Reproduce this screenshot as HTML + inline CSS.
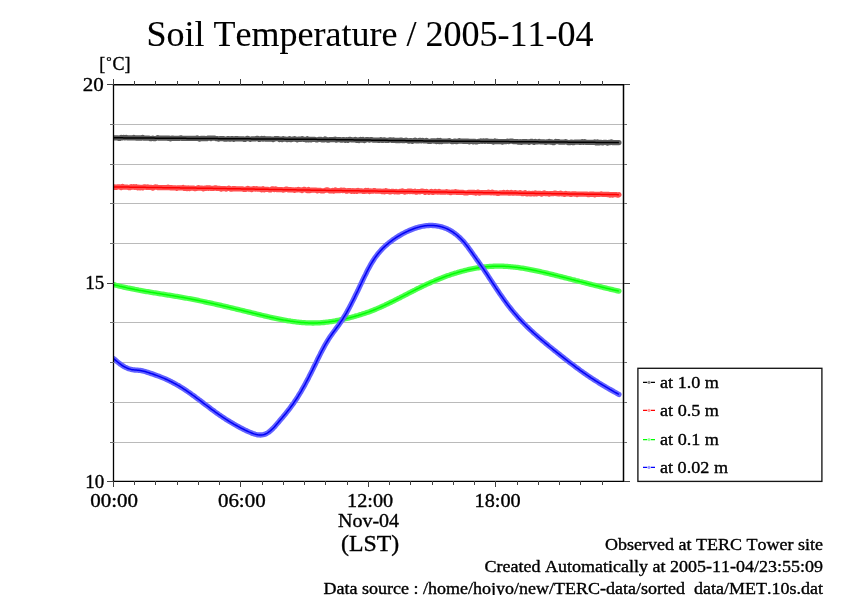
<!DOCTYPE html>
<html lang="en"><head><meta charset="utf-8"><title>Soil Temperature / 2005-11-04</title>
<style>html,body{margin:0;padding:0;background:#fff;overflow:hidden}svg{display:block}text{font-family:"Liberation Serif","Times New Roman",Times,serif;fill:#000;stroke:#000;stroke-width:0.36px;stroke-linejoin:round;font-kerning:none;font-variant-ligatures:none}</style></head><body>
<svg width="842" height="595" viewBox="0 0 842 595">
<rect width="842" height="595" fill="#fff"/>
<g fill="#bababa" shape-rendering="crispEdges">
<rect x="114" y="124" width="509" height="1"/>
<rect x="114" y="164" width="509" height="1"/>
<rect x="114" y="203" width="509" height="1"/>
<rect x="114" y="243" width="509" height="1"/>
<rect x="114" y="283" width="509" height="1"/>
<rect x="114" y="322" width="509" height="1"/>
<rect x="114" y="362" width="509" height="1"/>
<rect x="114" y="402" width="509" height="1"/>
<rect x="114" y="442" width="509" height="1"/>
</g>
<clipPath id="pc"><rect x="113.5" y="84.6" width="510.0" height="396.79999999999995"/></clipPath>
<g clip-path="url(#pc)" fill="none" stroke-linejoin="round">
<path d="M113.5,137.80 L114.8,137.81 L116.0,137.82 L117.3,137.83 L118.6,138.34 L119.8,138.35 L121.1,137.36 L122.4,137.87 L123.6,137.38 L124.9,137.89 L126.2,137.40 L127.4,137.91 L128.7,137.92 L130.0,137.93 L131.2,137.94 L132.5,137.95 L133.8,137.46 L135.0,137.97 L136.3,137.98 L137.6,137.99 L138.8,138.00 L140.1,138.01 L141.4,138.02 L142.6,137.53 L143.9,138.04 L145.2,138.05 L146.4,138.06 L147.7,138.07 L149.0,138.08 L150.2,138.59 L151.5,138.60 L152.8,138.11 L154.0,138.62 L155.3,138.63 L156.6,138.14 L157.8,137.65 L159.1,138.16 L160.4,138.17 L161.6,138.18 L162.9,138.19 L164.2,138.20 L165.4,138.21 L166.7,138.22 L168.0,138.23 L169.2,138.24 L170.5,138.75 L171.8,138.26 L173.0,138.27 L174.3,138.28 L175.6,138.29 L176.8,138.30 L178.1,138.31 L179.4,138.32 L180.6,137.83 L181.9,138.34 L183.2,138.35 L184.4,138.36 L185.7,138.37 L187.0,138.38 L188.2,138.39 L189.5,138.40 L190.8,138.41 L192.0,138.42 L193.3,138.43 L194.6,138.44 L195.8,138.45 L197.1,137.96 L198.4,138.47 L199.6,138.98 L200.9,138.49 L202.2,138.50 L203.4,138.51 L204.7,138.52 L206.0,138.53 L207.2,138.54 L208.5,138.05 L209.8,138.06 L211.0,138.57 L212.3,138.08 L213.6,138.09 L214.8,138.10 L216.1,138.61 L217.4,138.62 L218.6,139.13 L219.9,138.64 L221.2,138.65 L222.4,138.66 L223.7,138.67 L225.0,139.18 L226.2,139.19 L227.5,138.70 L228.8,138.70 L230.0,139.21 L231.3,138.72 L232.6,138.73 L233.8,139.24 L235.1,138.75 L236.4,138.76 L237.6,138.77 L238.9,138.78 L240.2,138.79 L241.4,138.80 L242.7,138.81 L244.0,139.32 L245.2,139.33 L246.5,138.84 L247.8,138.35 L249.0,138.86 L250.3,139.37 L251.6,138.88 L252.8,138.89 L254.1,138.90 L255.4,138.91 L256.6,138.42 L257.9,138.43 L259.2,139.44 L260.4,138.95 L261.7,138.46 L263.0,138.97 L264.2,138.48 L265.5,138.98 L266.8,138.99 L268.0,139.00 L269.3,139.01 L270.6,139.02 L271.8,139.03 L273.1,139.54 L274.4,139.05 L275.6,138.56 L276.9,138.57 L278.2,138.58 L279.4,139.59 L280.7,139.10 L282.0,139.61 L283.2,138.62 L284.5,139.13 L285.8,139.14 L287.0,139.65 L288.3,139.16 L289.6,138.67 L290.8,139.68 L292.1,139.19 L293.4,139.20 L294.6,138.71 L295.9,139.22 L297.2,139.73 L298.4,139.24 L299.7,139.25 L301.0,139.25 L302.2,138.76 L303.5,139.27 L304.8,139.28 L306.0,139.79 L307.3,138.80 L308.6,139.81 L309.8,139.32 L311.1,139.83 L312.4,139.34 L313.6,139.35 L314.9,139.36 L316.2,139.87 L317.4,139.88 L318.7,139.39 L320.0,139.40 L321.2,139.42 L322.5,139.94 L323.8,139.95 L325.0,138.97 L326.3,139.49 L327.6,140.01 L328.8,140.03 L330.1,139.54 L331.4,139.56 L332.6,139.58 L333.9,139.60 L335.2,139.12 L336.4,140.13 L337.7,139.65 L339.0,139.67 L340.2,139.69 L341.5,140.21 L342.8,139.73 L344.0,139.74 L345.3,140.26 L346.6,139.78 L347.8,140.30 L349.1,139.32 L350.4,139.33 L351.6,139.85 L352.9,139.87 L354.2,139.89 L355.4,139.41 L356.7,140.42 L358.0,139.94 L359.2,140.46 L360.5,139.48 L361.8,140.00 L363.0,139.51 L364.3,140.53 L365.6,140.05 L366.8,139.57 L368.1,139.59 L369.4,140.11 L370.6,139.62 L371.9,139.64 L373.2,140.16 L374.4,140.18 L375.7,140.20 L377.0,140.21 L378.2,140.23 L379.5,140.25 L380.8,139.77 L382.0,140.29 L383.3,140.30 L384.6,139.82 L385.8,140.34 L387.1,140.36 L388.4,140.38 L389.6,139.89 L390.9,139.91 L392.2,140.43 L393.4,139.95 L394.7,140.47 L396.0,140.49 L397.2,140.50 L398.5,140.52 L399.8,140.54 L401.0,140.06 L402.3,140.58 L403.6,140.59 L404.8,140.61 L406.1,140.13 L407.4,140.65 L408.6,141.17 L409.9,140.68 L411.2,140.70 L412.4,141.22 L413.7,140.74 L415.0,140.26 L416.2,140.77 L417.5,140.79 L418.8,140.81 L420.0,140.33 L421.3,140.85 L422.6,140.37 L423.8,140.88 L425.1,140.90 L426.4,140.41 L427.6,140.92 L428.9,141.43 L430.2,141.44 L431.4,140.96 L432.7,140.97 L434.0,140.98 L435.2,140.99 L436.5,141.50 L437.8,140.51 L439.0,141.52 L440.3,140.53 L441.6,141.54 L442.8,141.05 L444.1,141.06 L445.4,141.07 L446.6,141.09 L447.9,141.10 L449.2,140.61 L450.4,141.12 L451.7,141.63 L453.0,141.64 L454.2,141.15 L455.5,141.16 L456.8,141.67 L458.0,141.18 L459.3,140.69 L460.6,141.20 L461.8,141.22 L463.1,141.23 L464.4,141.24 L465.6,141.25 L466.9,141.26 L468.2,141.27 L469.4,141.78 L470.7,141.29 L472.0,141.30 L473.2,141.81 L474.5,141.32 L475.8,141.84 L477.0,141.85 L478.3,141.36 L479.6,141.37 L480.8,140.88 L482.1,141.39 L483.4,140.90 L484.6,141.41 L485.9,140.92 L487.2,140.93 L488.4,141.44 L489.7,141.45 L491.0,141.47 L492.2,141.48 L493.5,141.99 L494.8,141.00 L496.0,141.51 L497.3,141.52 L498.6,141.53 L499.8,141.54 L501.1,141.55 L502.4,142.06 L503.6,141.57 L504.9,141.58 L506.2,141.60 L507.4,141.11 L508.7,141.62 L510.0,141.13 L511.2,141.14 L512.5,141.15 L513.8,141.66 L515.0,141.67 L516.3,141.68 L517.6,141.69 L518.8,142.20 L520.1,141.72 L521.4,142.23 L522.6,141.74 L523.9,141.75 L525.2,141.76 L526.4,141.77 L527.7,141.78 L529.0,142.29 L530.2,141.80 L531.5,141.31 L532.8,141.82 L534.0,142.34 L535.3,141.35 L536.6,141.86 L537.8,141.87 L539.1,141.38 L540.4,141.89 L541.6,141.90 L542.9,141.91 L544.2,141.92 L545.4,142.43 L546.7,141.95 L548.0,141.96 L549.2,141.47 L550.5,141.98 L551.8,141.99 L553.0,142.50 L554.3,142.51 L555.6,141.52 L556.8,141.53 L558.1,141.55 L559.4,142.06 L560.6,142.07 L561.9,142.08 L563.2,142.09 L564.4,142.10 L565.7,141.61 L567.0,142.12 L568.2,142.63 L569.5,142.65 L570.8,142.16 L572.0,142.17 L573.3,142.68 L574.6,142.19 L575.8,142.20 L577.1,142.21 L578.4,142.22 L579.6,142.23 L580.9,142.25 L582.2,141.76 L583.4,142.27 L584.7,141.78 L586.0,142.29 L587.2,142.30 L588.5,142.31 L589.8,142.32 L591.0,142.33 L592.3,142.34 L593.6,142.36 L594.8,141.87 L596.1,142.88 L597.4,141.89 L598.6,142.90 L599.9,142.41 L601.2,142.42 L602.4,142.93 L603.7,142.44 L605.0,142.46 L606.2,142.47 L607.5,142.98 L608.8,142.49 L610.0,142.50 L611.3,142.01 L612.6,142.52 L613.8,142.53 L615.1,142.54 L616.4,142.56 L617.6,142.57 L618.9,142.58" stroke="#5c5c5c" stroke-width="5.3" stroke-linecap="round"/>
<path d="M113.5,137.80 L114.8,137.81 L116.0,137.82 L117.3,137.83 L118.6,137.84 L119.8,137.85 L121.1,137.86 L122.4,137.87 L123.6,137.88 L124.9,137.89 L126.2,137.90 L127.4,137.91 L128.7,137.92 L130.0,137.93 L131.2,137.94 L132.5,137.95 L133.8,137.96 L135.0,137.97 L136.3,137.98 L137.6,137.99 L138.8,138.00 L140.1,138.01 L141.4,138.02 L142.6,138.03 L143.9,138.04 L145.2,138.05 L146.4,138.06 L147.7,138.07 L149.0,138.08 L150.2,138.09 L151.5,138.10 L152.8,138.11 L154.0,138.12 L155.3,138.13 L156.6,138.14 L157.8,138.15 L159.1,138.16 L160.4,138.17 L161.6,138.18 L162.9,138.19 L164.2,138.20 L165.4,138.21 L166.7,138.22 L168.0,138.23 L169.2,138.24 L170.5,138.25 L171.8,138.26 L173.0,138.27 L174.3,138.28 L175.6,138.29 L176.8,138.30 L178.1,138.31 L179.4,138.32 L180.6,138.33 L181.9,138.34 L183.2,138.35 L184.4,138.36 L185.7,138.37 L187.0,138.38 L188.2,138.39 L189.5,138.40 L190.8,138.41 L192.0,138.42 L193.3,138.43 L194.6,138.44 L195.8,138.45 L197.1,138.46 L198.4,138.47 L199.6,138.48 L200.9,138.49 L202.2,138.50 L203.4,138.51 L204.7,138.52 L206.0,138.53 L207.2,138.54 L208.5,138.55 L209.8,138.56 L211.0,138.57 L212.3,138.58 L213.6,138.59 L214.8,138.60 L216.1,138.61 L217.4,138.62 L218.6,138.63 L219.9,138.64 L221.2,138.65 L222.4,138.66 L223.7,138.67 L225.0,138.68 L226.2,138.69 L227.5,138.70 L228.8,138.70 L230.0,138.71 L231.3,138.72 L232.6,138.73 L233.8,138.74 L235.1,138.75 L236.4,138.76 L237.6,138.77 L238.9,138.78 L240.2,138.79 L241.4,138.80 L242.7,138.81 L244.0,138.82 L245.2,138.83 L246.5,138.84 L247.8,138.85 L249.0,138.86 L250.3,138.87 L251.6,138.88 L252.8,138.89 L254.1,138.90 L255.4,138.91 L256.6,138.92 L257.9,138.93 L259.2,138.94 L260.4,138.95 L261.7,138.96 L263.0,138.97 L264.2,138.98 L265.5,138.98 L266.8,138.99 L268.0,139.00 L269.3,139.01 L270.6,139.02 L271.8,139.03 L273.1,139.04 L274.4,139.05 L275.6,139.06 L276.9,139.07 L278.2,139.08 L279.4,139.09 L280.7,139.10 L282.0,139.11 L283.2,139.12 L284.5,139.13 L285.8,139.14 L287.0,139.15 L288.3,139.16 L289.6,139.17 L290.8,139.18 L292.1,139.19 L293.4,139.20 L294.6,139.21 L295.9,139.22 L297.2,139.23 L298.4,139.24 L299.7,139.25 L301.0,139.25 L302.2,139.26 L303.5,139.27 L304.8,139.28 L306.0,139.29 L307.3,139.30 L308.6,139.31 L309.8,139.32 L311.1,139.33 L312.4,139.34 L313.6,139.35 L314.9,139.36 L316.2,139.37 L317.4,139.38 L318.7,139.39 L320.0,139.40 L321.2,139.42 L322.5,139.44 L323.8,139.45 L325.0,139.47 L326.3,139.49 L327.6,139.51 L328.8,139.53 L330.1,139.54 L331.4,139.56 L332.6,139.58 L333.9,139.60 L335.2,139.62 L336.4,139.63 L337.7,139.65 L339.0,139.67 L340.2,139.69 L341.5,139.71 L342.8,139.73 L344.0,139.74 L345.3,139.76 L346.6,139.78 L347.8,139.80 L349.1,139.82 L350.4,139.83 L351.6,139.85 L352.9,139.87 L354.2,139.89 L355.4,139.91 L356.7,139.92 L358.0,139.94 L359.2,139.96 L360.5,139.98 L361.8,140.00 L363.0,140.01 L364.3,140.03 L365.6,140.05 L366.8,140.07 L368.1,140.09 L369.4,140.11 L370.6,140.12 L371.9,140.14 L373.2,140.16 L374.4,140.18 L375.7,140.20 L377.0,140.21 L378.2,140.23 L379.5,140.25 L380.8,140.27 L382.0,140.29 L383.3,140.30 L384.6,140.32 L385.8,140.34 L387.1,140.36 L388.4,140.38 L389.6,140.39 L390.9,140.41 L392.2,140.43 L393.4,140.45 L394.7,140.47 L396.0,140.49 L397.2,140.50 L398.5,140.52 L399.8,140.54 L401.0,140.56 L402.3,140.58 L403.6,140.59 L404.8,140.61 L406.1,140.63 L407.4,140.65 L408.6,140.67 L409.9,140.68 L411.2,140.70 L412.4,140.72 L413.7,140.74 L415.0,140.76 L416.2,140.77 L417.5,140.79 L418.8,140.81 L420.0,140.83 L421.3,140.85 L422.6,140.87 L423.8,140.88 L425.1,140.90 L426.4,140.91 L427.6,140.92 L428.9,140.93 L430.2,140.94 L431.4,140.96 L432.7,140.97 L434.0,140.98 L435.2,140.99 L436.5,141.00 L437.8,141.01 L439.0,141.02 L440.3,141.03 L441.6,141.04 L442.8,141.05 L444.1,141.06 L445.4,141.07 L446.6,141.09 L447.9,141.10 L449.2,141.11 L450.4,141.12 L451.7,141.13 L453.0,141.14 L454.2,141.15 L455.5,141.16 L456.8,141.17 L458.0,141.18 L459.3,141.19 L460.6,141.20 L461.8,141.22 L463.1,141.23 L464.4,141.24 L465.6,141.25 L466.9,141.26 L468.2,141.27 L469.4,141.28 L470.7,141.29 L472.0,141.30 L473.2,141.31 L474.5,141.32 L475.8,141.34 L477.0,141.35 L478.3,141.36 L479.6,141.37 L480.8,141.38 L482.1,141.39 L483.4,141.40 L484.6,141.41 L485.9,141.42 L487.2,141.43 L488.4,141.44 L489.7,141.45 L491.0,141.47 L492.2,141.48 L493.5,141.49 L494.8,141.50 L496.0,141.51 L497.3,141.52 L498.6,141.53 L499.8,141.54 L501.1,141.55 L502.4,141.56 L503.6,141.57 L504.9,141.58 L506.2,141.60 L507.4,141.61 L508.7,141.62 L510.0,141.63 L511.2,141.64 L512.5,141.65 L513.8,141.66 L515.0,141.67 L516.3,141.68 L517.6,141.69 L518.8,141.70 L520.1,141.72 L521.4,141.73 L522.6,141.74 L523.9,141.75 L525.2,141.76 L526.4,141.77 L527.7,141.78 L529.0,141.79 L530.2,141.80 L531.5,141.81 L532.8,141.82 L534.0,141.84 L535.3,141.85 L536.6,141.86 L537.8,141.87 L539.1,141.88 L540.4,141.89 L541.6,141.90 L542.9,141.91 L544.2,141.92 L545.4,141.93 L546.7,141.95 L548.0,141.96 L549.2,141.97 L550.5,141.98 L551.8,141.99 L553.0,142.00 L554.3,142.01 L555.6,142.02 L556.8,142.03 L558.1,142.05 L559.4,142.06 L560.6,142.07 L561.9,142.08 L563.2,142.09 L564.4,142.10 L565.7,142.11 L567.0,142.12 L568.2,142.13 L569.5,142.15 L570.8,142.16 L572.0,142.17 L573.3,142.18 L574.6,142.19 L575.8,142.20 L577.1,142.21 L578.4,142.22 L579.6,142.23 L580.9,142.25 L582.2,142.26 L583.4,142.27 L584.7,142.28 L586.0,142.29 L587.2,142.30 L588.5,142.31 L589.8,142.32 L591.0,142.33 L592.3,142.34 L593.6,142.36 L594.8,142.37 L596.1,142.38 L597.4,142.39 L598.6,142.40 L599.9,142.41 L601.2,142.42 L602.4,142.43 L603.7,142.44 L605.0,142.46 L606.2,142.47 L607.5,142.48 L608.8,142.49 L610.0,142.50 L611.3,142.51 L612.6,142.52 L613.8,142.53 L615.1,142.54 L616.4,142.56 L617.6,142.57 L618.9,142.58" stroke="#000000" stroke-width="1.5"/>
<path d="M113.5,187.40 L114.8,186.92 L116.0,187.44 L117.3,186.96 L118.6,186.97 L119.8,186.99 L121.1,187.51 L122.4,186.53 L123.6,187.05 L124.9,187.07 L126.2,187.09 L127.4,187.11 L128.7,187.62 L130.0,187.64 L131.2,186.66 L132.5,187.18 L133.8,186.70 L135.0,187.22 L136.3,186.74 L137.6,187.76 L138.8,187.27 L140.1,187.79 L141.4,187.31 L142.6,187.83 L143.9,186.85 L145.2,186.87 L146.4,187.39 L147.7,186.91 L149.0,187.42 L150.2,187.44 L151.5,187.46 L152.8,187.98 L154.0,187.50 L155.3,187.02 L156.6,187.04 L157.8,187.56 L159.1,187.57 L160.4,187.59 L161.6,187.61 L162.9,187.63 L164.2,187.65 L165.4,187.67 L166.7,187.69 L168.0,187.20 L169.2,187.72 L170.5,187.74 L171.8,187.76 L173.0,187.78 L174.3,187.80 L175.6,187.82 L176.8,188.34 L178.1,187.85 L179.4,187.87 L180.6,187.89 L181.9,187.91 L183.2,187.43 L184.4,188.45 L185.7,187.97 L187.0,188.49 L188.2,188.00 L189.5,188.52 L190.8,188.04 L192.0,188.06 L193.3,188.08 L194.6,188.60 L195.8,188.62 L197.1,188.14 L198.4,187.65 L199.6,188.17 L200.9,188.19 L202.2,188.21 L203.4,188.73 L204.7,188.25 L206.0,188.27 L207.2,187.79 L208.5,188.30 L209.8,187.82 L211.0,188.34 L212.3,188.36 L213.6,188.38 L214.8,187.90 L216.1,187.92 L217.4,188.44 L218.6,188.47 L219.9,188.49 L221.2,189.01 L222.4,188.53 L223.7,188.56 L225.0,188.58 L226.2,189.10 L227.5,188.63 L228.8,188.15 L230.0,188.67 L231.3,189.19 L232.6,188.72 L233.8,188.74 L235.1,188.76 L236.4,188.79 L237.6,188.81 L238.9,188.83 L240.2,188.86 L241.4,188.88 L242.7,188.90 L244.0,189.42 L245.2,189.45 L246.5,188.97 L247.8,188.49 L249.0,189.02 L250.3,189.04 L251.6,189.56 L252.8,189.08 L254.1,188.61 L255.4,189.13 L256.6,188.65 L257.9,189.18 L259.2,189.20 L260.4,189.22 L261.7,189.75 L263.0,188.77 L264.2,189.79 L265.5,189.31 L266.8,189.34 L268.0,189.36 L269.3,189.88 L270.6,189.91 L271.8,188.93 L273.1,188.95 L274.4,189.47 L275.6,189.00 L276.9,189.52 L278.2,189.54 L279.4,189.57 L280.7,189.59 L282.0,189.61 L283.2,190.13 L284.5,189.66 L285.8,189.18 L287.0,189.20 L288.3,189.73 L289.6,189.75 L290.8,189.77 L292.1,189.80 L293.4,189.82 L294.6,190.34 L295.9,189.86 L297.2,189.89 L298.4,189.41 L299.7,189.93 L301.0,189.96 L302.2,190.48 L303.5,189.50 L304.8,189.52 L306.0,190.05 L307.3,190.57 L308.6,189.59 L309.8,190.62 L311.1,190.14 L312.4,190.16 L313.6,190.18 L314.9,190.21 L316.2,190.23 L317.4,190.75 L318.7,190.28 L320.0,190.30 L321.2,190.82 L322.5,190.84 L323.8,190.85 L325.0,190.37 L326.3,189.89 L327.6,189.91 L328.8,190.43 L330.1,190.94 L331.4,190.96 L332.6,190.48 L333.9,191.00 L335.2,190.02 L336.4,190.53 L337.7,190.55 L339.0,190.57 L340.2,190.59 L341.5,190.11 L342.8,190.63 L344.0,190.14 L345.3,190.66 L346.6,191.18 L347.8,190.70 L349.1,190.72 L350.4,190.73 L351.6,191.25 L352.9,190.77 L354.2,191.29 L355.4,190.81 L356.7,191.32 L358.0,190.34 L359.2,190.86 L360.5,190.88 L361.8,190.90 L363.0,191.41 L364.3,191.43 L365.6,190.45 L366.8,190.97 L368.1,190.49 L369.4,191.51 L370.6,191.02 L371.9,191.04 L373.2,191.06 L374.4,190.58 L375.7,191.10 L377.0,191.11 L378.2,191.13 L379.5,191.15 L380.8,191.17 L382.0,191.69 L383.3,191.20 L384.6,191.72 L385.8,190.74 L387.1,191.26 L388.4,191.28 L389.6,191.79 L390.9,191.81 L392.2,191.33 L393.4,191.35 L394.7,191.87 L396.0,191.39 L397.2,191.90 L398.5,191.92 L399.8,191.44 L401.0,191.46 L402.3,190.98 L403.6,191.49 L404.8,192.01 L406.1,191.53 L407.4,191.55 L408.6,191.07 L409.9,191.58 L411.2,191.10 L412.4,191.62 L413.7,191.64 L415.0,191.16 L416.2,192.17 L417.5,191.69 L418.8,191.71 L420.0,191.73 L421.3,191.25 L422.6,191.27 L423.8,191.28 L425.1,192.30 L426.4,191.32 L427.6,191.84 L428.9,192.36 L430.2,191.87 L431.4,191.39 L432.7,192.41 L434.0,191.93 L435.2,191.45 L436.5,191.96 L437.8,191.98 L439.0,191.50 L440.3,192.02 L441.6,192.04 L442.8,192.05 L444.1,192.07 L445.4,192.09 L446.6,191.61 L447.9,192.13 L449.2,192.15 L450.4,192.66 L451.7,192.18 L453.0,192.20 L454.2,192.22 L455.5,191.74 L456.8,192.25 L458.0,192.27 L459.3,192.29 L460.6,192.31 L461.8,192.33 L463.1,192.34 L464.4,192.86 L465.6,192.88 L466.9,192.90 L468.2,192.42 L469.4,192.43 L470.7,192.45 L472.0,192.47 L473.2,192.49 L474.5,192.51 L475.8,193.03 L477.0,192.54 L478.3,192.06 L479.6,193.08 L480.8,192.60 L482.1,192.62 L483.4,192.63 L484.6,192.65 L485.9,192.67 L487.2,192.69 L488.4,192.21 L489.7,192.72 L491.0,192.74 L492.2,192.26 L493.5,192.78 L494.8,192.80 L496.0,192.81 L497.3,193.33 L498.6,193.35 L499.8,192.87 L501.1,192.89 L502.4,192.91 L503.6,192.42 L504.9,192.94 L506.2,192.96 L507.4,192.48 L508.7,193.00 L510.0,193.01 L511.2,192.53 L512.5,193.05 L513.8,193.07 L515.0,192.59 L516.3,193.10 L517.6,193.12 L518.8,193.14 L520.1,192.66 L521.4,193.18 L522.6,193.69 L523.9,193.21 L525.2,192.73 L526.4,193.75 L527.7,193.77 L529.0,193.29 L530.2,193.80 L531.5,193.82 L532.8,193.34 L534.0,193.86 L535.3,192.88 L536.6,193.90 L537.8,193.42 L539.1,193.44 L540.4,193.46 L541.6,193.98 L542.9,193.50 L544.2,193.02 L545.4,193.54 L546.7,193.56 L548.0,193.57 L549.2,194.09 L550.5,193.61 L551.8,193.63 L553.0,193.65 L554.3,193.17 L555.6,193.19 L556.8,193.71 L558.1,193.73 L559.4,193.75 L560.6,193.27 L561.9,193.79 L563.2,193.81 L564.4,194.33 L565.7,193.35 L567.0,193.87 L568.2,193.88 L569.5,193.90 L570.8,194.42 L572.0,193.94 L573.3,193.96 L574.6,193.98 L575.8,194.00 L577.1,194.52 L578.4,194.04 L579.6,194.06 L580.9,194.08 L582.2,194.10 L583.4,194.12 L584.7,194.14 L586.0,194.16 L587.2,194.18 L588.5,194.70 L589.8,194.21 L591.0,194.23 L592.3,194.25 L593.6,194.27 L594.8,194.79 L596.1,194.31 L597.4,194.33 L598.6,194.35 L599.9,194.37 L601.2,193.89 L602.4,194.41 L603.7,194.43 L605.0,194.45 L606.2,194.47 L607.5,194.49 L608.8,194.51 L610.0,195.02 L611.3,194.54 L612.6,195.06 L613.8,194.58 L615.1,194.60 L616.4,194.62 L617.6,195.14 L618.9,194.66" stroke="#ff5050" stroke-width="5.3" stroke-linecap="round"/>
<path d="M113.5,186.90 L114.8,186.92 L116.0,186.94 L117.3,186.96 L118.6,186.97 L119.8,186.99 L121.1,187.01 L122.4,187.03 L123.6,187.05 L124.9,187.07 L126.2,187.09 L127.4,187.11 L128.7,187.12 L130.0,187.14 L131.2,187.16 L132.5,187.18 L133.8,187.20 L135.0,187.22 L136.3,187.24 L137.6,187.26 L138.8,187.27 L140.1,187.29 L141.4,187.31 L142.6,187.33 L143.9,187.35 L145.2,187.37 L146.4,187.39 L147.7,187.41 L149.0,187.42 L150.2,187.44 L151.5,187.46 L152.8,187.48 L154.0,187.50 L155.3,187.52 L156.6,187.54 L157.8,187.56 L159.1,187.57 L160.4,187.59 L161.6,187.61 L162.9,187.63 L164.2,187.65 L165.4,187.67 L166.7,187.69 L168.0,187.70 L169.2,187.72 L170.5,187.74 L171.8,187.76 L173.0,187.78 L174.3,187.80 L175.6,187.82 L176.8,187.84 L178.1,187.85 L179.4,187.87 L180.6,187.89 L181.9,187.91 L183.2,187.93 L184.4,187.95 L185.7,187.97 L187.0,187.99 L188.2,188.00 L189.5,188.02 L190.8,188.04 L192.0,188.06 L193.3,188.08 L194.6,188.10 L195.8,188.12 L197.1,188.14 L198.4,188.15 L199.6,188.17 L200.9,188.19 L202.2,188.21 L203.4,188.23 L204.7,188.25 L206.0,188.27 L207.2,188.29 L208.5,188.30 L209.8,188.32 L211.0,188.34 L212.3,188.36 L213.6,188.38 L214.8,188.40 L216.1,188.42 L217.4,188.44 L218.6,188.47 L219.9,188.49 L221.2,188.51 L222.4,188.53 L223.7,188.56 L225.0,188.58 L226.2,188.60 L227.5,188.63 L228.8,188.65 L230.0,188.67 L231.3,188.69 L232.6,188.72 L233.8,188.74 L235.1,188.76 L236.4,188.79 L237.6,188.81 L238.9,188.83 L240.2,188.86 L241.4,188.88 L242.7,188.90 L244.0,188.92 L245.2,188.95 L246.5,188.97 L247.8,188.99 L249.0,189.02 L250.3,189.04 L251.6,189.06 L252.8,189.08 L254.1,189.11 L255.4,189.13 L256.6,189.15 L257.9,189.18 L259.2,189.20 L260.4,189.22 L261.7,189.25 L263.0,189.27 L264.2,189.29 L265.5,189.31 L266.8,189.34 L268.0,189.36 L269.3,189.38 L270.6,189.41 L271.8,189.43 L273.1,189.45 L274.4,189.47 L275.6,189.50 L276.9,189.52 L278.2,189.54 L279.4,189.57 L280.7,189.59 L282.0,189.61 L283.2,189.63 L284.5,189.66 L285.8,189.68 L287.0,189.70 L288.3,189.73 L289.6,189.75 L290.8,189.77 L292.1,189.80 L293.4,189.82 L294.6,189.84 L295.9,189.86 L297.2,189.89 L298.4,189.91 L299.7,189.93 L301.0,189.96 L302.2,189.98 L303.5,190.00 L304.8,190.02 L306.0,190.05 L307.3,190.07 L308.6,190.09 L309.8,190.12 L311.1,190.14 L312.4,190.16 L313.6,190.18 L314.9,190.21 L316.2,190.23 L317.4,190.25 L318.7,190.28 L320.0,190.30 L321.2,190.32 L322.5,190.34 L323.8,190.35 L325.0,190.37 L326.3,190.39 L327.6,190.41 L328.8,190.43 L330.1,190.44 L331.4,190.46 L332.6,190.48 L333.9,190.50 L335.2,190.52 L336.4,190.53 L337.7,190.55 L339.0,190.57 L340.2,190.59 L341.5,190.61 L342.8,190.63 L344.0,190.64 L345.3,190.66 L346.6,190.68 L347.8,190.70 L349.1,190.72 L350.4,190.73 L351.6,190.75 L352.9,190.77 L354.2,190.79 L355.4,190.81 L356.7,190.82 L358.0,190.84 L359.2,190.86 L360.5,190.88 L361.8,190.90 L363.0,190.91 L364.3,190.93 L365.6,190.95 L366.8,190.97 L368.1,190.99 L369.4,191.01 L370.6,191.02 L371.9,191.04 L373.2,191.06 L374.4,191.08 L375.7,191.10 L377.0,191.11 L378.2,191.13 L379.5,191.15 L380.8,191.17 L382.0,191.19 L383.3,191.20 L384.6,191.22 L385.8,191.24 L387.1,191.26 L388.4,191.28 L389.6,191.29 L390.9,191.31 L392.2,191.33 L393.4,191.35 L394.7,191.37 L396.0,191.39 L397.2,191.40 L398.5,191.42 L399.8,191.44 L401.0,191.46 L402.3,191.48 L403.6,191.49 L404.8,191.51 L406.1,191.53 L407.4,191.55 L408.6,191.57 L409.9,191.58 L411.2,191.60 L412.4,191.62 L413.7,191.64 L415.0,191.66 L416.2,191.67 L417.5,191.69 L418.8,191.71 L420.0,191.73 L421.3,191.75 L422.6,191.77 L423.8,191.78 L425.1,191.80 L426.4,191.82 L427.6,191.84 L428.9,191.86 L430.2,191.87 L431.4,191.89 L432.7,191.91 L434.0,191.93 L435.2,191.95 L436.5,191.96 L437.8,191.98 L439.0,192.00 L440.3,192.02 L441.6,192.04 L442.8,192.05 L444.1,192.07 L445.4,192.09 L446.6,192.11 L447.9,192.13 L449.2,192.15 L450.4,192.16 L451.7,192.18 L453.0,192.20 L454.2,192.22 L455.5,192.24 L456.8,192.25 L458.0,192.27 L459.3,192.29 L460.6,192.31 L461.8,192.33 L463.1,192.34 L464.4,192.36 L465.6,192.38 L466.9,192.40 L468.2,192.42 L469.4,192.43 L470.7,192.45 L472.0,192.47 L473.2,192.49 L474.5,192.51 L475.8,192.53 L477.0,192.54 L478.3,192.56 L479.6,192.58 L480.8,192.60 L482.1,192.62 L483.4,192.63 L484.6,192.65 L485.9,192.67 L487.2,192.69 L488.4,192.71 L489.7,192.72 L491.0,192.74 L492.2,192.76 L493.5,192.78 L494.8,192.80 L496.0,192.81 L497.3,192.83 L498.6,192.85 L499.8,192.87 L501.1,192.89 L502.4,192.91 L503.6,192.92 L504.9,192.94 L506.2,192.96 L507.4,192.98 L508.7,193.00 L510.0,193.01 L511.2,193.03 L512.5,193.05 L513.8,193.07 L515.0,193.09 L516.3,193.10 L517.6,193.12 L518.8,193.14 L520.1,193.16 L521.4,193.18 L522.6,193.19 L523.9,193.21 L525.2,193.23 L526.4,193.25 L527.7,193.27 L529.0,193.29 L530.2,193.30 L531.5,193.32 L532.8,193.34 L534.0,193.36 L535.3,193.38 L536.6,193.40 L537.8,193.42 L539.1,193.44 L540.4,193.46 L541.6,193.48 L542.9,193.50 L544.2,193.52 L545.4,193.54 L546.7,193.56 L548.0,193.57 L549.2,193.59 L550.5,193.61 L551.8,193.63 L553.0,193.65 L554.3,193.67 L555.6,193.69 L556.8,193.71 L558.1,193.73 L559.4,193.75 L560.6,193.77 L561.9,193.79 L563.2,193.81 L564.4,193.83 L565.7,193.85 L567.0,193.87 L568.2,193.88 L569.5,193.90 L570.8,193.92 L572.0,193.94 L573.3,193.96 L574.6,193.98 L575.8,194.00 L577.1,194.02 L578.4,194.04 L579.6,194.06 L580.9,194.08 L582.2,194.10 L583.4,194.12 L584.7,194.14 L586.0,194.16 L587.2,194.18 L588.5,194.20 L589.8,194.21 L591.0,194.23 L592.3,194.25 L593.6,194.27 L594.8,194.29 L596.1,194.31 L597.4,194.33 L598.6,194.35 L599.9,194.37 L601.2,194.39 L602.4,194.41 L603.7,194.43 L605.0,194.45 L606.2,194.47 L607.5,194.49 L608.8,194.51 L610.0,194.52 L611.3,194.54 L612.6,194.56 L613.8,194.58 L615.1,194.60 L616.4,194.62 L617.6,194.64 L618.9,194.66" stroke="#ff0000" stroke-width="1.5"/>
<path d="M113.5,284.57 L114.8,284.90 L116.0,285.23 L117.3,285.55 L118.6,285.86 L119.8,286.17 L121.1,286.47 L122.4,286.77 L123.6,287.06 L124.9,287.35 L126.2,287.62 L127.4,287.90 L128.7,288.17 L130.0,288.43 L131.2,288.69 L132.5,288.95 L133.8,289.20 L135.0,289.45 L136.3,289.69 L137.6,289.93 L138.8,290.17 L140.1,290.40 L141.4,290.63 L142.6,290.85 L143.9,291.08 L145.2,291.30 L146.4,291.52 L147.7,291.73 L149.0,291.95 L150.2,292.16 L151.5,292.37 L152.8,292.58 L154.0,292.78 L155.3,292.99 L156.6,293.19 L157.8,293.40 L159.1,293.60 L160.4,293.80 L161.6,294.01 L162.9,294.21 L164.2,294.41 L165.4,294.61 L166.7,294.81 L168.0,295.02 L169.2,295.22 L170.5,295.43 L171.8,295.63 L173.0,295.84 L174.3,296.05 L175.6,296.26 L176.8,296.47 L178.1,296.68 L179.4,296.90 L180.6,297.12 L181.9,297.34 L183.2,297.56 L184.4,297.79 L185.7,298.02 L187.0,298.25 L188.2,298.49 L189.5,298.73 L190.8,298.97 L192.0,299.21 L193.3,299.46 L194.6,299.71 L195.8,299.96 L197.1,300.21 L198.4,300.47 L199.6,300.73 L200.9,300.99 L202.2,301.26 L203.4,301.52 L204.7,301.79 L206.0,302.06 L207.2,302.34 L208.5,302.61 L209.8,302.89 L211.0,303.17 L212.3,303.45 L213.6,303.73 L214.8,304.01 L216.1,304.30 L217.4,304.59 L218.6,304.88 L219.9,305.17 L221.2,305.46 L222.4,305.75 L223.7,306.05 L225.0,306.34 L226.2,306.64 L227.5,306.94 L228.8,307.24 L230.0,307.54 L231.3,307.84 L232.6,308.14 L233.8,308.45 L235.1,308.75 L236.4,309.06 L237.6,309.36 L238.9,309.67 L240.2,309.98 L241.4,310.28 L242.7,310.59 L244.0,310.90 L245.2,311.21 L246.5,311.52 L247.8,311.83 L249.0,312.13 L250.3,312.44 L251.6,312.75 L252.8,313.06 L254.1,313.37 L255.4,313.68 L256.6,313.99 L257.9,314.30 L259.2,314.60 L260.4,314.91 L261.7,315.22 L263.0,315.52 L264.2,315.82 L265.5,316.12 L266.8,316.41 L268.0,316.71 L269.3,317.00 L270.6,317.29 L271.8,317.57 L273.1,317.85 L274.4,318.12 L275.6,318.39 L276.9,318.66 L278.2,318.92 L279.4,319.17 L280.7,319.42 L282.0,319.67 L283.2,319.90 L284.5,320.13 L285.8,320.36 L287.0,320.57 L288.3,320.78 L289.6,320.98 L290.8,321.18 L292.1,321.36 L293.4,321.54 L294.6,321.71 L295.9,321.87 L297.2,322.02 L298.4,322.16 L299.7,322.29 L301.0,322.41 L302.2,322.52 L303.5,322.61 L304.8,322.70 L306.0,322.78 L307.3,322.84 L308.6,322.89 L309.8,322.93 L311.1,322.96 L312.4,322.98 L313.6,322.98 L314.9,322.97 L316.2,322.94 L317.4,322.90 L318.7,322.85 L320.0,322.78 L321.2,322.70 L322.5,322.60 L323.8,322.49 L325.0,322.37 L326.3,322.23 L327.6,322.08 L328.8,321.91 L330.1,321.74 L331.4,321.55 L332.6,321.35 L333.9,321.14 L335.2,320.92 L336.4,320.68 L337.7,320.44 L339.0,320.19 L340.2,319.93 L341.5,319.66 L342.8,319.38 L344.0,319.09 L345.3,318.79 L346.6,318.49 L347.8,318.18 L349.1,317.86 L350.4,317.53 L351.6,317.20 L352.9,316.86 L354.2,316.52 L355.4,316.16 L356.7,315.80 L358.0,315.43 L359.2,315.05 L360.5,314.66 L361.8,314.27 L363.0,313.86 L364.3,313.44 L365.6,313.02 L366.8,312.58 L368.1,312.13 L369.4,311.67 L370.6,311.20 L371.9,310.72 L373.2,310.23 L374.4,309.72 L375.7,309.20 L377.0,308.67 L378.2,308.13 L379.5,307.58 L380.8,307.03 L382.0,306.46 L383.3,305.88 L384.6,305.30 L385.8,304.70 L387.1,304.10 L388.4,303.49 L389.6,302.88 L390.9,302.26 L392.2,301.64 L393.4,301.01 L394.7,300.37 L396.0,299.74 L397.2,299.09 L398.5,298.45 L399.8,297.80 L401.0,297.15 L402.3,296.50 L403.6,295.85 L404.8,295.20 L406.1,294.55 L407.4,293.89 L408.6,293.24 L409.9,292.59 L411.2,291.94 L412.4,291.30 L413.7,290.65 L415.0,290.01 L416.2,289.38 L417.5,288.74 L418.8,288.11 L420.0,287.49 L421.3,286.87 L422.6,286.26 L423.8,285.65 L425.1,285.05 L426.4,284.46 L427.6,283.88 L428.9,283.30 L430.2,282.73 L431.4,282.17 L432.7,281.62 L434.0,281.07 L435.2,280.53 L436.5,280.00 L437.8,279.48 L439.0,278.97 L440.3,278.46 L441.6,277.97 L442.8,277.48 L444.1,277.00 L445.4,276.53 L446.6,276.07 L447.9,275.62 L449.2,275.18 L450.4,274.74 L451.7,274.32 L453.0,273.90 L454.2,273.50 L455.5,273.10 L456.8,272.72 L458.0,272.34 L459.3,271.98 L460.6,271.62 L461.8,271.28 L463.1,270.94 L464.4,270.62 L465.6,270.30 L466.9,270.00 L468.2,269.70 L469.4,269.42 L470.7,269.15 L472.0,268.89 L473.2,268.64 L474.5,268.40 L475.8,268.18 L477.0,267.96 L478.3,267.76 L479.6,267.57 L480.8,267.39 L482.1,267.22 L483.4,267.06 L484.6,266.92 L485.9,266.79 L487.2,266.67 L488.4,266.56 L489.7,266.46 L491.0,266.38 L492.2,266.31 L493.5,266.25 L494.8,266.21 L496.0,266.18 L497.3,266.16 L498.6,266.16 L499.8,266.16 L501.1,266.18 L502.4,266.22 L503.6,266.26 L504.9,266.32 L506.2,266.39 L507.4,266.47 L508.7,266.56 L510.0,266.66 L511.2,266.77 L512.5,266.90 L513.8,267.03 L515.0,267.17 L516.3,267.33 L517.6,267.49 L518.8,267.66 L520.1,267.84 L521.4,268.02 L522.6,268.22 L523.9,268.42 L525.2,268.64 L526.4,268.85 L527.7,269.08 L529.0,269.31 L530.2,269.55 L531.5,269.80 L532.8,270.05 L534.0,270.31 L535.3,270.57 L536.6,270.84 L537.8,271.11 L539.1,271.39 L540.4,271.67 L541.6,271.96 L542.9,272.25 L544.2,272.55 L545.4,272.85 L546.7,273.15 L548.0,273.45 L549.2,273.76 L550.5,274.07 L551.8,274.38 L553.0,274.69 L554.3,275.01 L555.6,275.32 L556.8,275.64 L558.1,275.96 L559.4,276.28 L560.6,276.60 L561.9,276.92 L563.2,277.25 L564.4,277.57 L565.7,277.89 L567.0,278.22 L568.2,278.54 L569.5,278.87 L570.8,279.19 L572.0,279.52 L573.3,279.84 L574.6,280.17 L575.8,280.50 L577.1,280.82 L578.4,281.15 L579.6,281.48 L580.9,281.80 L582.2,282.13 L583.4,282.45 L584.7,282.78 L586.0,283.10 L587.2,283.43 L588.5,283.75 L589.8,284.07 L591.0,284.39 L592.3,284.71 L593.6,285.03 L594.8,285.35 L596.1,285.67 L597.4,285.99 L598.6,286.30 L599.9,286.62 L601.2,286.93 L602.4,287.24 L603.7,287.55 L605.0,287.86 L606.2,288.16 L607.5,288.47 L608.8,288.77 L610.0,289.07 L611.3,289.37 L612.6,289.67 L613.8,289.96 L615.1,290.25 L616.4,290.54 L617.6,290.83 L618.9,291.12" stroke="#50ff50" stroke-width="5.3" stroke-linecap="round"/>
<path d="M113.5,284.57 L114.8,284.90 L116.0,285.23 L117.3,285.55 L118.6,285.86 L119.8,286.17 L121.1,286.47 L122.4,286.77 L123.6,287.06 L124.9,287.35 L126.2,287.62 L127.4,287.90 L128.7,288.17 L130.0,288.43 L131.2,288.69 L132.5,288.95 L133.8,289.20 L135.0,289.45 L136.3,289.69 L137.6,289.93 L138.8,290.17 L140.1,290.40 L141.4,290.63 L142.6,290.85 L143.9,291.08 L145.2,291.30 L146.4,291.52 L147.7,291.73 L149.0,291.95 L150.2,292.16 L151.5,292.37 L152.8,292.58 L154.0,292.78 L155.3,292.99 L156.6,293.19 L157.8,293.40 L159.1,293.60 L160.4,293.80 L161.6,294.01 L162.9,294.21 L164.2,294.41 L165.4,294.61 L166.7,294.81 L168.0,295.02 L169.2,295.22 L170.5,295.43 L171.8,295.63 L173.0,295.84 L174.3,296.05 L175.6,296.26 L176.8,296.47 L178.1,296.68 L179.4,296.90 L180.6,297.12 L181.9,297.34 L183.2,297.56 L184.4,297.79 L185.7,298.02 L187.0,298.25 L188.2,298.49 L189.5,298.73 L190.8,298.97 L192.0,299.21 L193.3,299.46 L194.6,299.71 L195.8,299.96 L197.1,300.21 L198.4,300.47 L199.6,300.73 L200.9,300.99 L202.2,301.26 L203.4,301.52 L204.7,301.79 L206.0,302.06 L207.2,302.34 L208.5,302.61 L209.8,302.89 L211.0,303.17 L212.3,303.45 L213.6,303.73 L214.8,304.01 L216.1,304.30 L217.4,304.59 L218.6,304.88 L219.9,305.17 L221.2,305.46 L222.4,305.75 L223.7,306.05 L225.0,306.34 L226.2,306.64 L227.5,306.94 L228.8,307.24 L230.0,307.54 L231.3,307.84 L232.6,308.14 L233.8,308.45 L235.1,308.75 L236.4,309.06 L237.6,309.36 L238.9,309.67 L240.2,309.98 L241.4,310.28 L242.7,310.59 L244.0,310.90 L245.2,311.21 L246.5,311.52 L247.8,311.83 L249.0,312.13 L250.3,312.44 L251.6,312.75 L252.8,313.06 L254.1,313.37 L255.4,313.68 L256.6,313.99 L257.9,314.30 L259.2,314.60 L260.4,314.91 L261.7,315.22 L263.0,315.52 L264.2,315.82 L265.5,316.12 L266.8,316.41 L268.0,316.71 L269.3,317.00 L270.6,317.29 L271.8,317.57 L273.1,317.85 L274.4,318.12 L275.6,318.39 L276.9,318.66 L278.2,318.92 L279.4,319.17 L280.7,319.42 L282.0,319.67 L283.2,319.90 L284.5,320.13 L285.8,320.36 L287.0,320.57 L288.3,320.78 L289.6,320.98 L290.8,321.18 L292.1,321.36 L293.4,321.54 L294.6,321.71 L295.9,321.87 L297.2,322.02 L298.4,322.16 L299.7,322.29 L301.0,322.41 L302.2,322.52 L303.5,322.61 L304.8,322.70 L306.0,322.78 L307.3,322.84 L308.6,322.89 L309.8,322.93 L311.1,322.96 L312.4,322.98 L313.6,322.98 L314.9,322.97 L316.2,322.94 L317.4,322.90 L318.7,322.85 L320.0,322.78 L321.2,322.70 L322.5,322.60 L323.8,322.49 L325.0,322.37 L326.3,322.23 L327.6,322.08 L328.8,321.91 L330.1,321.74 L331.4,321.55 L332.6,321.35 L333.9,321.14 L335.2,320.92 L336.4,320.68 L337.7,320.44 L339.0,320.19 L340.2,319.93 L341.5,319.66 L342.8,319.38 L344.0,319.09 L345.3,318.79 L346.6,318.49 L347.8,318.18 L349.1,317.86 L350.4,317.53 L351.6,317.20 L352.9,316.86 L354.2,316.52 L355.4,316.16 L356.7,315.80 L358.0,315.43 L359.2,315.05 L360.5,314.66 L361.8,314.27 L363.0,313.86 L364.3,313.44 L365.6,313.02 L366.8,312.58 L368.1,312.13 L369.4,311.67 L370.6,311.20 L371.9,310.72 L373.2,310.23 L374.4,309.72 L375.7,309.20 L377.0,308.67 L378.2,308.13 L379.5,307.58 L380.8,307.03 L382.0,306.46 L383.3,305.88 L384.6,305.30 L385.8,304.70 L387.1,304.10 L388.4,303.49 L389.6,302.88 L390.9,302.26 L392.2,301.64 L393.4,301.01 L394.7,300.37 L396.0,299.74 L397.2,299.09 L398.5,298.45 L399.8,297.80 L401.0,297.15 L402.3,296.50 L403.6,295.85 L404.8,295.20 L406.1,294.55 L407.4,293.89 L408.6,293.24 L409.9,292.59 L411.2,291.94 L412.4,291.30 L413.7,290.65 L415.0,290.01 L416.2,289.38 L417.5,288.74 L418.8,288.11 L420.0,287.49 L421.3,286.87 L422.6,286.26 L423.8,285.65 L425.1,285.05 L426.4,284.46 L427.6,283.88 L428.9,283.30 L430.2,282.73 L431.4,282.17 L432.7,281.62 L434.0,281.07 L435.2,280.53 L436.5,280.00 L437.8,279.48 L439.0,278.97 L440.3,278.46 L441.6,277.97 L442.8,277.48 L444.1,277.00 L445.4,276.53 L446.6,276.07 L447.9,275.62 L449.2,275.18 L450.4,274.74 L451.7,274.32 L453.0,273.90 L454.2,273.50 L455.5,273.10 L456.8,272.72 L458.0,272.34 L459.3,271.98 L460.6,271.62 L461.8,271.28 L463.1,270.94 L464.4,270.62 L465.6,270.30 L466.9,270.00 L468.2,269.70 L469.4,269.42 L470.7,269.15 L472.0,268.89 L473.2,268.64 L474.5,268.40 L475.8,268.18 L477.0,267.96 L478.3,267.76 L479.6,267.57 L480.8,267.39 L482.1,267.22 L483.4,267.06 L484.6,266.92 L485.9,266.79 L487.2,266.67 L488.4,266.56 L489.7,266.46 L491.0,266.38 L492.2,266.31 L493.5,266.25 L494.8,266.21 L496.0,266.18 L497.3,266.16 L498.6,266.16 L499.8,266.16 L501.1,266.18 L502.4,266.22 L503.6,266.26 L504.9,266.32 L506.2,266.39 L507.4,266.47 L508.7,266.56 L510.0,266.66 L511.2,266.77 L512.5,266.90 L513.8,267.03 L515.0,267.17 L516.3,267.33 L517.6,267.49 L518.8,267.66 L520.1,267.84 L521.4,268.02 L522.6,268.22 L523.9,268.42 L525.2,268.64 L526.4,268.85 L527.7,269.08 L529.0,269.31 L530.2,269.55 L531.5,269.80 L532.8,270.05 L534.0,270.31 L535.3,270.57 L536.6,270.84 L537.8,271.11 L539.1,271.39 L540.4,271.67 L541.6,271.96 L542.9,272.25 L544.2,272.55 L545.4,272.85 L546.7,273.15 L548.0,273.45 L549.2,273.76 L550.5,274.07 L551.8,274.38 L553.0,274.69 L554.3,275.01 L555.6,275.32 L556.8,275.64 L558.1,275.96 L559.4,276.28 L560.6,276.60 L561.9,276.92 L563.2,277.25 L564.4,277.57 L565.7,277.89 L567.0,278.22 L568.2,278.54 L569.5,278.87 L570.8,279.19 L572.0,279.52 L573.3,279.84 L574.6,280.17 L575.8,280.50 L577.1,280.82 L578.4,281.15 L579.6,281.48 L580.9,281.80 L582.2,282.13 L583.4,282.45 L584.7,282.78 L586.0,283.10 L587.2,283.43 L588.5,283.75 L589.8,284.07 L591.0,284.39 L592.3,284.71 L593.6,285.03 L594.8,285.35 L596.1,285.67 L597.4,285.99 L598.6,286.30 L599.9,286.62 L601.2,286.93 L602.4,287.24 L603.7,287.55 L605.0,287.86 L606.2,288.16 L607.5,288.47 L608.8,288.77 L610.0,289.07 L611.3,289.37 L612.6,289.67 L613.8,289.96 L615.1,290.25 L616.4,290.54 L617.6,290.83 L618.9,291.12" stroke="#00ff00" stroke-width="1.5"/>
<path d="M113.5,358.56 L114.8,359.61 L116.0,360.66 L117.3,361.71 L118.6,362.74 L119.8,363.73 L121.1,364.67 L122.4,365.54 L123.6,366.33 L124.9,367.03 L126.2,367.65 L127.4,368.20 L128.7,368.67 L130.0,369.06 L131.2,369.39 L132.5,369.65 L133.8,369.85 L135.0,370.00 L136.3,370.12 L137.6,370.23 L138.8,370.35 L140.1,370.49 L141.4,370.67 L142.6,370.91 L143.9,371.21 L145.2,371.57 L146.4,371.96 L147.7,372.37 L149.0,372.78 L150.2,373.20 L151.5,373.63 L152.8,374.06 L154.0,374.50 L155.3,374.95 L156.6,375.41 L157.8,375.88 L159.1,376.36 L160.4,376.86 L161.6,377.36 L162.9,377.88 L164.2,378.41 L165.4,378.96 L166.7,379.53 L168.0,380.11 L169.2,380.71 L170.5,381.33 L171.8,381.97 L173.0,382.62 L174.3,383.30 L175.6,383.99 L176.8,384.70 L178.1,385.42 L179.4,386.17 L180.6,386.93 L181.9,387.72 L183.2,388.52 L184.4,389.34 L185.7,390.18 L187.0,391.03 L188.2,391.90 L189.5,392.79 L190.8,393.68 L192.0,394.59 L193.3,395.51 L194.6,396.43 L195.8,397.37 L197.1,398.31 L198.4,399.26 L199.6,400.21 L200.9,401.17 L202.2,402.13 L203.4,403.09 L204.7,404.05 L206.0,405.02 L207.2,405.98 L208.5,406.93 L209.8,407.89 L211.0,408.83 L212.3,409.78 L213.6,410.71 L214.8,411.64 L216.1,412.55 L217.4,413.46 L218.6,414.35 L219.9,415.23 L221.2,416.10 L222.4,416.96 L223.7,417.80 L225.0,418.62 L226.2,419.44 L227.5,420.24 L228.8,421.03 L230.0,421.81 L231.3,422.57 L232.6,423.32 L233.8,424.06 L235.1,424.79 L236.4,425.51 L237.6,426.21 L238.9,426.90 L240.2,427.58 L241.4,428.24 L242.7,428.89 L244.0,429.52 L245.2,430.14 L246.5,430.74 L247.8,431.32 L249.0,431.88 L250.3,432.42 L251.6,432.94 L252.8,433.42 L254.1,433.86 L255.4,434.24 L256.6,434.55 L257.9,434.79 L259.2,434.94 L260.4,434.99 L261.7,434.93 L263.0,434.75 L264.2,434.44 L265.5,433.99 L266.8,433.38 L268.0,432.62 L269.3,431.71 L270.6,430.66 L271.8,429.51 L273.1,428.25 L274.4,426.92 L275.6,425.51 L276.9,424.06 L278.2,422.57 L279.4,421.07 L280.7,419.55 L282.0,418.04 L283.2,416.52 L284.5,414.99 L285.8,413.44 L287.0,411.86 L288.3,410.26 L289.6,408.62 L290.8,406.94 L292.1,405.22 L293.4,403.44 L294.6,401.61 L295.9,399.72 L297.2,397.77 L298.4,395.76 L299.7,393.69 L301.0,391.56 L302.2,389.38 L303.5,387.14 L304.8,384.85 L306.0,382.51 L307.3,380.13 L308.6,377.69 L309.8,375.21 L311.1,372.68 L312.4,370.12 L313.6,367.54 L314.9,364.94 L316.2,362.34 L317.4,359.75 L318.7,357.19 L320.0,354.65 L321.2,352.16 L322.5,349.73 L323.8,347.36 L325.0,345.07 L326.3,342.86 L327.6,340.76 L328.8,338.76 L330.1,336.86 L331.4,335.02 L332.6,333.24 L333.9,331.50 L335.2,329.79 L336.4,328.07 L337.7,326.35 L339.0,324.59 L340.2,322.79 L341.5,320.93 L342.8,318.98 L344.0,316.94 L345.3,314.82 L346.6,312.62 L347.8,310.34 L349.1,308.00 L350.4,305.59 L351.6,303.13 L352.9,300.62 L354.2,298.07 L355.4,295.49 L356.7,292.87 L358.0,290.22 L359.2,287.56 L360.5,284.89 L361.8,282.21 L363.0,279.55 L364.3,276.91 L365.6,274.32 L366.8,271.78 L368.1,269.32 L369.4,266.95 L370.6,264.67 L371.9,262.52 L373.2,260.48 L374.4,258.57 L375.7,256.76 L377.0,255.05 L378.2,253.44 L379.5,251.92 L380.8,250.48 L382.0,249.13 L383.3,247.84 L384.6,246.62 L385.8,245.47 L387.1,244.36 L388.4,243.31 L389.6,242.29 L390.9,241.32 L392.2,240.37 L393.4,239.46 L394.7,238.58 L396.0,237.73 L397.2,236.92 L398.5,236.13 L399.8,235.37 L401.0,234.64 L402.3,233.93 L403.6,233.25 L404.8,232.60 L406.1,231.97 L407.4,231.36 L408.6,230.78 L409.9,230.23 L411.2,229.70 L412.4,229.20 L413.7,228.73 L415.0,228.28 L416.2,227.87 L417.5,227.49 L418.8,227.13 L420.0,226.81 L421.3,226.52 L422.6,226.27 L423.8,226.05 L425.1,225.86 L426.4,225.71 L427.6,225.59 L428.9,225.51 L430.2,225.46 L431.4,225.46 L432.7,225.49 L434.0,225.56 L435.2,225.67 L436.5,225.82 L437.8,226.02 L439.0,226.25 L440.3,226.54 L441.6,226.86 L442.8,227.24 L444.1,227.66 L445.4,228.14 L446.6,228.67 L447.9,229.26 L449.2,229.90 L450.4,230.59 L451.7,231.35 L453.0,232.17 L454.2,233.06 L455.5,234.00 L456.8,235.02 L458.0,236.10 L459.3,237.25 L460.6,238.47 L461.8,239.77 L463.1,241.14 L464.4,242.58 L465.6,244.11 L466.9,245.71 L468.2,247.39 L469.4,249.12 L470.7,250.89 L472.0,252.70 L473.2,254.51 L474.5,256.33 L475.8,258.12 L477.0,259.91 L478.3,261.68 L479.6,263.47 L480.8,265.26 L482.1,267.08 L483.4,268.91 L484.6,270.76 L485.9,272.64 L487.2,274.54 L488.4,276.46 L489.7,278.41 L491.0,280.36 L492.2,282.31 L493.5,284.24 L494.8,286.17 L496.0,288.09 L497.3,289.99 L498.6,291.87 L499.8,293.73 L501.1,295.57 L502.4,297.39 L503.6,299.18 L504.9,300.95 L506.2,302.68 L507.4,304.39 L508.7,306.06 L510.0,307.69 L511.2,309.29 L512.5,310.85 L513.8,312.37 L515.0,313.86 L516.3,315.32 L517.6,316.75 L518.8,318.16 L520.1,319.53 L521.4,320.88 L522.6,322.20 L523.9,323.50 L525.2,324.78 L526.4,326.05 L527.7,327.29 L529.0,328.51 L530.2,329.72 L531.5,330.90 L532.8,332.08 L534.0,333.24 L535.3,334.38 L536.6,335.51 L537.8,336.62 L539.1,337.73 L540.4,338.82 L541.6,339.90 L542.9,340.98 L544.2,342.04 L545.4,343.09 L546.7,344.14 L548.0,345.18 L549.2,346.22 L550.5,347.24 L551.8,348.27 L553.0,349.29 L554.3,350.31 L555.6,351.32 L556.8,352.33 L558.1,353.35 L559.4,354.35 L560.6,355.36 L561.9,356.36 L563.2,357.36 L564.4,358.35 L565.7,359.34 L567.0,360.33 L568.2,361.31 L569.5,362.29 L570.8,363.26 L572.0,364.22 L573.3,365.18 L574.6,366.13 L575.8,367.08 L577.1,368.02 L578.4,368.95 L579.6,369.87 L580.9,370.79 L582.2,371.70 L583.4,372.60 L584.7,373.49 L586.0,374.37 L587.2,375.24 L588.5,376.10 L589.8,376.96 L591.0,377.80 L592.3,378.63 L593.6,379.45 L594.8,380.26 L596.1,381.07 L597.4,381.86 L598.6,382.65 L599.9,383.43 L601.2,384.20 L602.4,384.97 L603.7,385.72 L605.0,386.47 L606.2,387.22 L607.5,387.96 L608.8,388.69 L610.0,389.42 L611.3,390.15 L612.6,390.87 L613.8,391.58 L615.1,392.29 L616.4,393.00 L617.6,393.71 L618.9,394.41" stroke="#6262ff" stroke-width="5.3" stroke-linecap="round"/>
<path d="M113.5,358.56 L114.8,359.61 L116.0,360.66 L117.3,361.71 L118.6,362.74 L119.8,363.73 L121.1,364.67 L122.4,365.54 L123.6,366.33 L124.9,367.03 L126.2,367.65 L127.4,368.20 L128.7,368.67 L130.0,369.06 L131.2,369.39 L132.5,369.65 L133.8,369.85 L135.0,370.00 L136.3,370.12 L137.6,370.23 L138.8,370.35 L140.1,370.49 L141.4,370.67 L142.6,370.91 L143.9,371.21 L145.2,371.57 L146.4,371.96 L147.7,372.37 L149.0,372.78 L150.2,373.20 L151.5,373.63 L152.8,374.06 L154.0,374.50 L155.3,374.95 L156.6,375.41 L157.8,375.88 L159.1,376.36 L160.4,376.86 L161.6,377.36 L162.9,377.88 L164.2,378.41 L165.4,378.96 L166.7,379.53 L168.0,380.11 L169.2,380.71 L170.5,381.33 L171.8,381.97 L173.0,382.62 L174.3,383.30 L175.6,383.99 L176.8,384.70 L178.1,385.42 L179.4,386.17 L180.6,386.93 L181.9,387.72 L183.2,388.52 L184.4,389.34 L185.7,390.18 L187.0,391.03 L188.2,391.90 L189.5,392.79 L190.8,393.68 L192.0,394.59 L193.3,395.51 L194.6,396.43 L195.8,397.37 L197.1,398.31 L198.4,399.26 L199.6,400.21 L200.9,401.17 L202.2,402.13 L203.4,403.09 L204.7,404.05 L206.0,405.02 L207.2,405.98 L208.5,406.93 L209.8,407.89 L211.0,408.83 L212.3,409.78 L213.6,410.71 L214.8,411.64 L216.1,412.55 L217.4,413.46 L218.6,414.35 L219.9,415.23 L221.2,416.10 L222.4,416.96 L223.7,417.80 L225.0,418.62 L226.2,419.44 L227.5,420.24 L228.8,421.03 L230.0,421.81 L231.3,422.57 L232.6,423.32 L233.8,424.06 L235.1,424.79 L236.4,425.51 L237.6,426.21 L238.9,426.90 L240.2,427.58 L241.4,428.24 L242.7,428.89 L244.0,429.52 L245.2,430.14 L246.5,430.74 L247.8,431.32 L249.0,431.88 L250.3,432.42 L251.6,432.94 L252.8,433.42 L254.1,433.86 L255.4,434.24 L256.6,434.55 L257.9,434.79 L259.2,434.94 L260.4,434.99 L261.7,434.93 L263.0,434.75 L264.2,434.44 L265.5,433.99 L266.8,433.38 L268.0,432.62 L269.3,431.71 L270.6,430.66 L271.8,429.51 L273.1,428.25 L274.4,426.92 L275.6,425.51 L276.9,424.06 L278.2,422.57 L279.4,421.07 L280.7,419.55 L282.0,418.04 L283.2,416.52 L284.5,414.99 L285.8,413.44 L287.0,411.86 L288.3,410.26 L289.6,408.62 L290.8,406.94 L292.1,405.22 L293.4,403.44 L294.6,401.61 L295.9,399.72 L297.2,397.77 L298.4,395.76 L299.7,393.69 L301.0,391.56 L302.2,389.38 L303.5,387.14 L304.8,384.85 L306.0,382.51 L307.3,380.13 L308.6,377.69 L309.8,375.21 L311.1,372.68 L312.4,370.12 L313.6,367.54 L314.9,364.94 L316.2,362.34 L317.4,359.75 L318.7,357.19 L320.0,354.65 L321.2,352.16 L322.5,349.73 L323.8,347.36 L325.0,345.07 L326.3,342.86 L327.6,340.76 L328.8,338.76 L330.1,336.86 L331.4,335.02 L332.6,333.24 L333.9,331.50 L335.2,329.79 L336.4,328.07 L337.7,326.35 L339.0,324.59 L340.2,322.79 L341.5,320.93 L342.8,318.98 L344.0,316.94 L345.3,314.82 L346.6,312.62 L347.8,310.34 L349.1,308.00 L350.4,305.59 L351.6,303.13 L352.9,300.62 L354.2,298.07 L355.4,295.49 L356.7,292.87 L358.0,290.22 L359.2,287.56 L360.5,284.89 L361.8,282.21 L363.0,279.55 L364.3,276.91 L365.6,274.32 L366.8,271.78 L368.1,269.32 L369.4,266.95 L370.6,264.67 L371.9,262.52 L373.2,260.48 L374.4,258.57 L375.7,256.76 L377.0,255.05 L378.2,253.44 L379.5,251.92 L380.8,250.48 L382.0,249.13 L383.3,247.84 L384.6,246.62 L385.8,245.47 L387.1,244.36 L388.4,243.31 L389.6,242.29 L390.9,241.32 L392.2,240.37 L393.4,239.46 L394.7,238.58 L396.0,237.73 L397.2,236.92 L398.5,236.13 L399.8,235.37 L401.0,234.64 L402.3,233.93 L403.6,233.25 L404.8,232.60 L406.1,231.97 L407.4,231.36 L408.6,230.78 L409.9,230.23 L411.2,229.70 L412.4,229.20 L413.7,228.73 L415.0,228.28 L416.2,227.87 L417.5,227.49 L418.8,227.13 L420.0,226.81 L421.3,226.52 L422.6,226.27 L423.8,226.05 L425.1,225.86 L426.4,225.71 L427.6,225.59 L428.9,225.51 L430.2,225.46 L431.4,225.46 L432.7,225.49 L434.0,225.56 L435.2,225.67 L436.5,225.82 L437.8,226.02 L439.0,226.25 L440.3,226.54 L441.6,226.86 L442.8,227.24 L444.1,227.66 L445.4,228.14 L446.6,228.67 L447.9,229.26 L449.2,229.90 L450.4,230.59 L451.7,231.35 L453.0,232.17 L454.2,233.06 L455.5,234.00 L456.8,235.02 L458.0,236.10 L459.3,237.25 L460.6,238.47 L461.8,239.77 L463.1,241.14 L464.4,242.58 L465.6,244.11 L466.9,245.71 L468.2,247.39 L469.4,249.12 L470.7,250.89 L472.0,252.70 L473.2,254.51 L474.5,256.33 L475.8,258.12 L477.0,259.91 L478.3,261.68 L479.6,263.47 L480.8,265.26 L482.1,267.08 L483.4,268.91 L484.6,270.76 L485.9,272.64 L487.2,274.54 L488.4,276.46 L489.7,278.41 L491.0,280.36 L492.2,282.31 L493.5,284.24 L494.8,286.17 L496.0,288.09 L497.3,289.99 L498.6,291.87 L499.8,293.73 L501.1,295.57 L502.4,297.39 L503.6,299.18 L504.9,300.95 L506.2,302.68 L507.4,304.39 L508.7,306.06 L510.0,307.69 L511.2,309.29 L512.5,310.85 L513.8,312.37 L515.0,313.86 L516.3,315.32 L517.6,316.75 L518.8,318.16 L520.1,319.53 L521.4,320.88 L522.6,322.20 L523.9,323.50 L525.2,324.78 L526.4,326.05 L527.7,327.29 L529.0,328.51 L530.2,329.72 L531.5,330.90 L532.8,332.08 L534.0,333.24 L535.3,334.38 L536.6,335.51 L537.8,336.62 L539.1,337.73 L540.4,338.82 L541.6,339.90 L542.9,340.98 L544.2,342.04 L545.4,343.09 L546.7,344.14 L548.0,345.18 L549.2,346.22 L550.5,347.24 L551.8,348.27 L553.0,349.29 L554.3,350.31 L555.6,351.32 L556.8,352.33 L558.1,353.35 L559.4,354.35 L560.6,355.36 L561.9,356.36 L563.2,357.36 L564.4,358.35 L565.7,359.34 L567.0,360.33 L568.2,361.31 L569.5,362.29 L570.8,363.26 L572.0,364.22 L573.3,365.18 L574.6,366.13 L575.8,367.08 L577.1,368.02 L578.4,368.95 L579.6,369.87 L580.9,370.79 L582.2,371.70 L583.4,372.60 L584.7,373.49 L586.0,374.37 L587.2,375.24 L588.5,376.10 L589.8,376.96 L591.0,377.80 L592.3,378.63 L593.6,379.45 L594.8,380.26 L596.1,381.07 L597.4,381.86 L598.6,382.65 L599.9,383.43 L601.2,384.20 L602.4,384.97 L603.7,385.72 L605.0,386.47 L606.2,387.22 L607.5,387.96 L608.8,388.69 L610.0,389.42 L611.3,390.15 L612.6,390.87 L613.8,391.58 L615.1,392.29 L616.4,393.00 L617.6,393.71 L618.9,394.41" stroke="#0000f6" stroke-width="1.5"/>
</g>
<g stroke="#000" fill="none" stroke-linecap="butt">
<path d="M113.5,83.94999999999999 V482.04999999999995" stroke-width="1.3"/>
<path d="M623.5,83.94999999999999 V482.04999999999995" stroke-width="1.5"/>
<path d="M112.85,84.69999999999999 H624.25" stroke-width="1.5"/>
<path d="M112.85,481.4 H624.25" stroke-width="1.3"/>
</g>
<g fill="#404040" shape-rendering="crispEdges"><rect x="113" y="78.9" width="1" height="5.7"/><rect x="113" y="481.4" width="1" height="6.0"/><rect x="134" y="81.3" width="1" height="3.3"/><rect x="134" y="481.4" width="1" height="3.3"/><rect x="155" y="81.3" width="1" height="3.3"/><rect x="155" y="481.4" width="1" height="3.3"/><rect x="177" y="81.3" width="1" height="3.3"/><rect x="177" y="481.4" width="1" height="3.3"/><rect x="198" y="81.3" width="1" height="3.3"/><rect x="198" y="481.4" width="1" height="3.3"/><rect x="219" y="81.3" width="1" height="3.3"/><rect x="219" y="481.4" width="1" height="3.3"/><rect x="240" y="78.9" width="1" height="5.7"/><rect x="240" y="481.4" width="1" height="6.0"/><rect x="262" y="81.3" width="1" height="3.3"/><rect x="262" y="481.4" width="1" height="3.3"/><rect x="283" y="81.3" width="1" height="3.3"/><rect x="283" y="481.4" width="1" height="3.3"/><rect x="304" y="81.3" width="1" height="3.3"/><rect x="304" y="481.4" width="1" height="3.3"/><rect x="325" y="81.3" width="1" height="3.3"/><rect x="325" y="481.4" width="1" height="3.3"/><rect x="347" y="81.3" width="1" height="3.3"/><rect x="347" y="481.4" width="1" height="3.3"/><rect x="368" y="78.9" width="1" height="5.7"/><rect x="368" y="481.4" width="1" height="6.0"/><rect x="389" y="81.3" width="1" height="3.3"/><rect x="389" y="481.4" width="1" height="3.3"/><rect x="410" y="81.3" width="1" height="3.3"/><rect x="410" y="481.4" width="1" height="3.3"/><rect x="432" y="81.3" width="1" height="3.3"/><rect x="432" y="481.4" width="1" height="3.3"/><rect x="453" y="81.3" width="1" height="3.3"/><rect x="453" y="481.4" width="1" height="3.3"/><rect x="474" y="81.3" width="1" height="3.3"/><rect x="474" y="481.4" width="1" height="3.3"/><rect x="495" y="78.9" width="1" height="5.7"/><rect x="495" y="481.4" width="1" height="6.0"/><rect x="517" y="81.3" width="1" height="3.3"/><rect x="517" y="481.4" width="1" height="3.3"/><rect x="538" y="81.3" width="1" height="3.3"/><rect x="538" y="481.4" width="1" height="3.3"/><rect x="559" y="81.3" width="1" height="3.3"/><rect x="559" y="481.4" width="1" height="3.3"/><rect x="580" y="81.3" width="1" height="3.3"/><rect x="580" y="481.4" width="1" height="3.3"/><rect x="602" y="81.3" width="1" height="3.3"/><rect x="602" y="481.4" width="1" height="3.3"/><rect x="107.1" y="84" width="6.4" height="1"/><rect x="623.5" y="84" width="6.4" height="1"/><rect x="110.2" y="124" width="3.3" height="1" fill="#6e6e6e"/><rect x="623.5" y="124" width="3.3" height="1" fill="#6e6e6e"/><rect x="110.2" y="164" width="3.3" height="1" fill="#6e6e6e"/><rect x="623.5" y="164" width="3.3" height="1" fill="#6e6e6e"/><rect x="110.2" y="203" width="3.3" height="1" fill="#6e6e6e"/><rect x="623.5" y="203" width="3.3" height="1" fill="#6e6e6e"/><rect x="110.2" y="243" width="3.3" height="1" fill="#6e6e6e"/><rect x="623.5" y="243" width="3.3" height="1" fill="#6e6e6e"/><rect x="107.1" y="283" width="6.4" height="1"/><rect x="623.5" y="283" width="6.4" height="1"/><rect x="110.2" y="322" width="3.3" height="1" fill="#6e6e6e"/><rect x="623.5" y="322" width="3.3" height="1" fill="#6e6e6e"/><rect x="110.2" y="362" width="3.3" height="1" fill="#6e6e6e"/><rect x="623.5" y="362" width="3.3" height="1" fill="#6e6e6e"/><rect x="110.2" y="402" width="3.3" height="1" fill="#6e6e6e"/><rect x="623.5" y="402" width="3.3" height="1" fill="#6e6e6e"/><rect x="110.2" y="442" width="3.3" height="1" fill="#6e6e6e"/><rect x="623.5" y="442" width="3.3" height="1" fill="#6e6e6e"/><rect x="107.1" y="481" width="6.4" height="1"/><rect x="623.5" y="481" width="6.4" height="1"/></g>
<text x="146.5" y="46.3" font-size="36" text-anchor="start" style="stroke-width:0.12px">Soil Temperature / 2005-11-04</text>
<text x="99.3" y="70.1" font-size="18">[<tspan font-size="13.5" dx="0.9" dy="-5.3">°</tspan><tspan dx="0.9" dy="5.3">C]</tspan></text>
<text x="103.7" y="91.0" font-size="19.5" text-anchor="end" textLength="21.0" lengthAdjust="spacingAndGlyphs">20</text>
<text x="104.3" y="289.4" font-size="19.5" text-anchor="end" textLength="19.0" lengthAdjust="spacingAndGlyphs">15</text>
<text x="104.3" y="487.79999999999995" font-size="19.5" text-anchor="end" textLength="19.0" lengthAdjust="spacingAndGlyphs">10</text>
<text x="114.2" y="506.8" font-size="19.5" text-anchor="middle" textLength="47.8" lengthAdjust="spacingAndGlyphs">00:00</text>
<text x="241.8" y="506.8" font-size="19.5" text-anchor="middle" textLength="47.8" lengthAdjust="spacingAndGlyphs">06:00</text>
<text x="370.1" y="506.8" font-size="19.5" text-anchor="middle" textLength="46.1" lengthAdjust="spacingAndGlyphs">12:00</text>
<text x="497.6" y="506.8" font-size="19.5" text-anchor="middle" textLength="46.1" lengthAdjust="spacingAndGlyphs">18:00</text>
<text x="368.5" y="526.6" font-size="19.2" text-anchor="middle" textLength="61.1" lengthAdjust="spacingAndGlyphs">Nov-04</text>
<text x="370.1" y="550.8" font-size="23.2" text-anchor="middle" textLength="58.2" lengthAdjust="spacingAndGlyphs">(LST)</text>
<rect x="637.9" y="368.3" width="184" height="113.1" fill="#fff" stroke="#161616" stroke-width="1.35"/>
<path d="M643,382.4 H647.2 M650.8,382.4 H655" stroke="#000" stroke-width="1.3"/>
<circle cx="649" cy="382.4" r="1.6" fill="#8a8a8a"/>
<text x="660.0" y="387.6" font-size="16.9" text-anchor="start" textLength="59.0" lengthAdjust="spacingAndGlyphs">at 1.0 m</text>
<path d="M643,410.4 H647.2 M650.8,410.4 H655" stroke="#ff0000" stroke-width="1.3"/>
<circle cx="649" cy="410.4" r="1.6" fill="#ff9a9a"/>
<text x="660.0" y="415.6" font-size="16.9" text-anchor="start" textLength="59.0" lengthAdjust="spacingAndGlyphs">at 0.5 m</text>
<path d="M643,439.6 H647.2 M650.8,439.6 H655" stroke="#00ff00" stroke-width="1.3"/>
<circle cx="649" cy="439.6" r="1.6" fill="#9aff9a"/>
<text x="660.0" y="444.8" font-size="16.9" text-anchor="start" textLength="59.0" lengthAdjust="spacingAndGlyphs">at 0.1 m</text>
<path d="M643,467.4 H647.2 M650.8,467.4 H655" stroke="#0000ff" stroke-width="1.3"/>
<circle cx="649" cy="467.4" r="1.6" fill="#9a9aff"/>
<text x="660.0" y="472.6" font-size="16.9" text-anchor="start" textLength="68.0" lengthAdjust="spacingAndGlyphs">at 0.02 m</text>
<text x="823" y="549.8" font-size="16.9" text-anchor="end" textLength="217.9" lengthAdjust="spacingAndGlyphs">Observed at TERC Tower site</text>
<text x="823" y="572.0" font-size="16.9" text-anchor="end" textLength="338.4" lengthAdjust="spacingAndGlyphs">Created Automatically at 2005-11-04/23:55:09</text>
<text x="823" y="594.4" font-size="16.9" text-anchor="end" textLength="499.4" lengthAdjust="spacingAndGlyphs">Data source : /home/hojyo/new/TERC-data/sorted_data/MET.10s.dat</text>
</svg></body></html>
